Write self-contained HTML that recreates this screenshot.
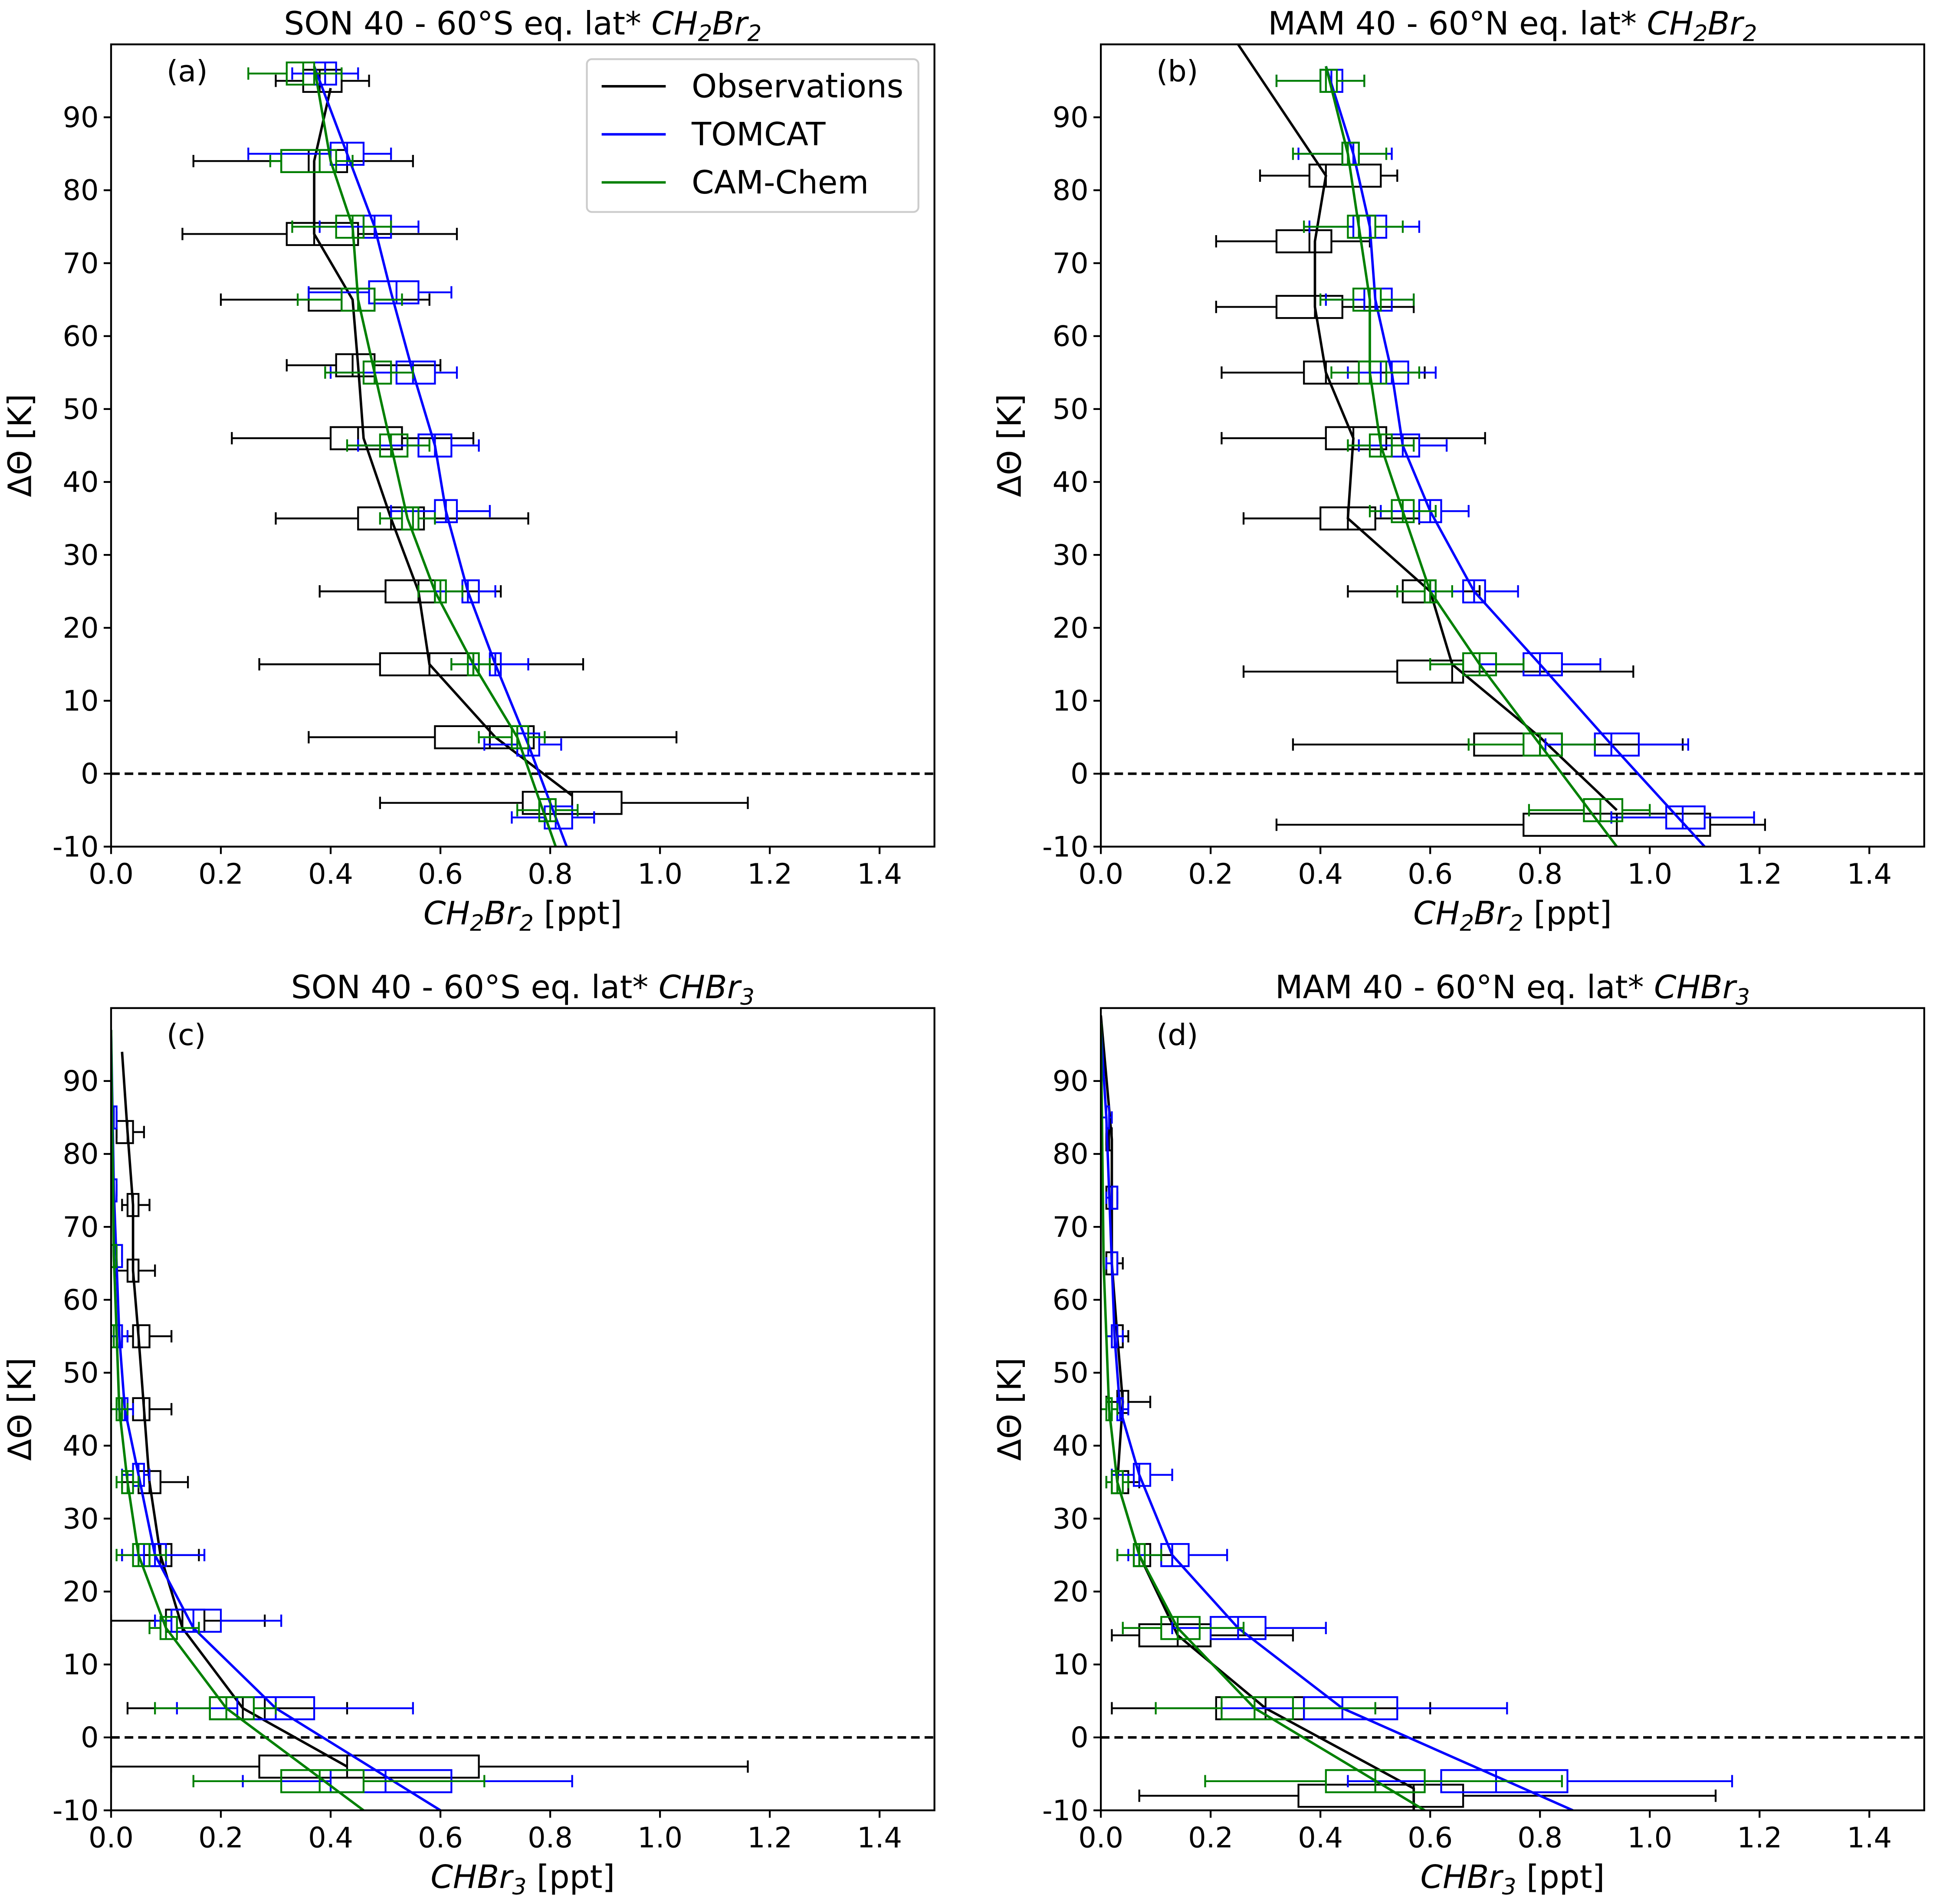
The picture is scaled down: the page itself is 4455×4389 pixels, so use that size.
<!DOCTYPE html>
<html><head><meta charset="utf-8"><style>
html,body{margin:0;padding:0;background:#fff}
svg{display:block;font-family:"DejaVu Sans","Liberation Sans",sans-serif}
</style></head><body>
<svg id="fig" width="4455" height="4389" viewBox="0 0 1568 1545" xmlns="http://www.w3.org/2000/svg"></svg>
<script>
// ---- data: rows are [theta, whiskerLo, q1, median, q3, whiskerHi]
const obsA=[[95,0.30,0.35,0.38,0.42,0.47],[84,0.15,0.31,0.36,0.43,0.55],[74,0.13,0.32,0.37,0.45,0.63],[65,0.20,0.36,0.42,0.48,0.58],[56,0.32,0.41,0.44,0.48,0.60],[46,0.22,0.40,0.45,0.53,0.66],[35,0.30,0.45,0.51,0.57,0.76],[25,0.38,0.50,0.56,0.59,0.71],[15,0.27,0.49,0.58,0.66,0.86],[5,0.36,0.59,0.69,0.77,1.03],[-4,0.49,0.75,0.84,0.93,1.16]];
const tomA=[[96,0.33,0.37,0.39,0.41,0.45],[85,0.25,0.40,0.43,0.46,0.51],[75,0.38,0.46,0.48,0.51,0.56],[66,0.36,0.47,0.52,0.56,0.62],[55,0.40,0.52,0.55,0.59,0.63],[45,0.45,0.56,0.59,0.62,0.67],[36,0.51,0.59,0.61,0.63,0.69],[25,0.59,0.64,0.65,0.67,0.70],[15,0.62,0.69,0.70,0.71,0.76],[4,0.68,0.74,0.76,0.78,0.82],[-6,0.73,0.79,0.81,0.84,0.88]];
const camA=[[96,0.25,0.32,0.35,0.37,0.42],[84,0.29,0.31,0.38,0.41,0.44],[75,0.33,0.41,0.44,0.46,0.51],[65,0.34,0.42,0.45,0.48,0.53],[55,0.39,0.46,0.48,0.51,0.55],[45,0.43,0.49,0.51,0.54,0.58],[35,0.49,0.53,0.55,0.56,0.59],[25,0.56,0.59,0.60,0.61,0.64],[15,0.62,0.65,0.66,0.67,0.69],[5,0.67,0.73,0.74,0.76,0.79],[-5,0.74,0.78,0.80,0.81,0.85]];
const obsLineA=[[94,0.40],[84,0.37],[74,0.37],[65,0.44],[56,0.45],[46,0.46],[35,0.51],[25,0.56],[15,0.58],[5,0.70],[-3,0.84]];
const tomLineA=[[97,0.37],[85,0.43],[75,0.48],[66,0.51],[55,0.55],[45,0.59],[36,0.61],[25,0.65],[15,0.70],[4,0.76],[-10,0.83]];
const camLineA=[[97,0.37],[84,0.40],[75,0.44],[65,0.45],[55,0.48],[45,0.51],[35,0.54],[25,0.59],[15,0.66],[5,0.74],[-10,0.81]];

const obsB=[[82,0.29,0.38,0.41,0.51,0.54],[73,0.21,0.32,0.38,0.42,0.49],[64,0.21,0.32,0.39,0.44,0.57],[55,0.22,0.37,0.41,0.49,0.59],[46,0.22,0.41,0.46,0.52,0.70],[35,0.26,0.40,0.45,0.50,0.58],[25,0.45,0.55,0.60,0.61,0.69],[14,0.26,0.54,0.64,0.66,0.97],[4,0.35,0.68,0.80,0.84,1.06],[-7,0.32,0.77,0.94,1.11,1.21]];
const tomB=[[95,0.32,0.40,0.42,0.44,0.48],[85,0.36,0.44,0.46,0.47,0.53],[75,0.38,0.46,0.49,0.52,0.58],[65,0.41,0.48,0.50,0.53,0.57],[55,0.45,0.51,0.53,0.56,0.61],[45,0.47,0.53,0.55,0.58,0.63],[36,0.51,0.58,0.60,0.62,0.67],[25,0.60,0.66,0.68,0.70,0.76],[15,0.69,0.77,0.80,0.84,0.91],[4,0.81,0.90,0.93,0.98,1.07],[-6,0.93,1.03,1.06,1.10,1.19]];
const camB=[[95,0.32,0.40,0.41,0.43,0.48],[85,0.35,0.44,0.45,0.47,0.52],[75,0.37,0.45,0.47,0.50,0.55],[65,0.40,0.46,0.49,0.51,0.57],[55,0.42,0.47,0.49,0.52,0.58],[45,0.45,0.49,0.51,0.53,0.57],[36,0.49,0.53,0.55,0.57,0.61],[25,0.54,0.59,0.60,0.61,0.64],[15,0.60,0.66,0.69,0.72,0.77],[4,0.67,0.77,0.80,0.84,0.90],[-5,0.78,0.88,0.91,0.95,1.00]];
const obsLineB=[[100,0.25],[82,0.41],[73,0.39],[64,0.39],[55,0.41],[46,0.46],[35,0.45],[25,0.60],[15,0.64],[5,0.80],[-5,0.94]];
const tomLineB=[[97,0.41],[85,0.46],[75,0.49],[65,0.50],[55,0.53],[45,0.55],[36,0.60],[25,0.68],[15,0.80],[4,0.93],[-10,1.10]];
const camLineB=[[97,0.41],[85,0.45],[75,0.47],[65,0.49],[55,0.49],[45,0.51],[36,0.55],[25,0.60],[15,0.69],[4,0.80],[-10,0.94]];

const obsC=[[83,0.01,0.01,0.03,0.04,0.06],[73,0.02,0.03,0.04,0.05,0.07],[64,0.01,0.03,0.04,0.05,0.08],[55,0.02,0.04,0.05,0.07,0.11],[45,0.02,0.04,0.06,0.07,0.11],[35,0.02,0.05,0.07,0.09,0.14],[25,0.02,0.07,0.09,0.11,0.16],[16,0.00,0.10,0.13,0.17,0.28],[4,0.03,0.18,0.24,0.28,0.43],[-4,0.00,0.27,0.43,0.67,1.16]];
const tomC=[[85,0.00,0.00,0.005,0.01,0.01],[75,0.00,0.00,0.005,0.01,0.01],[66,0.00,0.00,0.01,0.02,0.02],[55,0.00,0.01,0.015,0.02,0.03],[45,0.01,0.02,0.025,0.03,0.04],[36,0.02,0.04,0.05,0.06,0.07],[25,0.02,0.06,0.08,0.10,0.17],[16,0.08,0.11,0.15,0.20,0.31],[4,0.12,0.23,0.30,0.37,0.55],[-6,0.24,0.40,0.50,0.62,0.84]];
const camC=[[66,0.00,0.00,0.005,0.01,0.01],[55,0.00,0.00,0.005,0.01,0.01],[45,0.00,0.01,0.015,0.02,0.03],[35,0.01,0.02,0.03,0.04,0.05],[25,0.01,0.04,0.05,0.07,0.10],[15,0.07,0.09,0.10,0.12,0.16],[4,0.08,0.18,0.21,0.26,0.30],[-6,0.15,0.31,0.38,0.46,0.68]];
const obsLineC=[[94,0.02],[83,0.03],[73,0.04],[64,0.04],[55,0.05],[45,0.06],[35,0.07],[25,0.09],[15,0.13],[4,0.24],[-4,0.43]];
const tomLineC=[[97,0.00],[75,0.005],[55,0.015],[45,0.025],[36,0.05],[25,0.08],[15,0.15],[4,0.30],[-10,0.60]];
const camLineC=[[97,0.00],[66,0.005],[45,0.015],[35,0.03],[25,0.05],[15,0.10],[4,0.21],[-10,0.46]];

const obsD=[[82,0.01,0.01,0.015,0.02,0.02],[74,0.01,0.01,0.02,0.03,0.03],[65,0.01,0.01,0.02,0.03,0.04],[55,0.01,0.02,0.03,0.04,0.05],[46,0.01,0.03,0.04,0.05,0.09],[35,0.01,0.02,0.03,0.05,0.07],[25,0.03,0.06,0.07,0.09,0.13],[14,0.02,0.07,0.14,0.20,0.35],[4,0.02,0.21,0.30,0.37,0.60],[-8,0.07,0.36,0.57,0.66,1.12]];
const tomD=[[85,0.00,0.01,0.01,0.015,0.02],[74,0.01,0.02,0.02,0.03,0.03],[65,0.01,0.02,0.02,0.03,0.03],[55,0.01,0.02,0.025,0.03,0.04],[45,0.02,0.03,0.035,0.04,0.05],[36,0.02,0.06,0.07,0.09,0.13],[25,0.05,0.11,0.13,0.16,0.23],[15,0.13,0.20,0.25,0.30,0.41],[4,0.22,0.37,0.44,0.54,0.74],[-6,0.45,0.62,0.72,0.85,1.15]];
const camD=[[45,0.00,0.01,0.015,0.02,0.03],[35,0.01,0.02,0.03,0.04,0.05],[25,0.03,0.06,0.07,0.08,0.11],[15,0.04,0.11,0.14,0.18,0.26],[4,0.10,0.22,0.28,0.35,0.50],[-6,0.19,0.41,0.50,0.59,0.84]];
const obsLineD=[[99,0.00],[82,0.02],[74,0.02],[65,0.02],[55,0.03],[46,0.04],[35,0.03],[25,0.07],[14,0.14],[4,0.30],[-7,0.57],[-10,0.57]];
const tomLineD=[[97,0.00],[85,0.01],[65,0.02],[55,0.025],[45,0.035],[36,0.07],[25,0.13],[15,0.25],[4,0.44],[-10,0.86]];
const camLineD=[[98,0.00],[65,0.005],[45,0.015],[35,0.03],[25,0.07],[15,0.14],[4,0.28],[-10,0.59]];

const xTicks=[0,0.2,0.4,0.6,0.8,1.0,1.2,1.4];
const yTicks=[-10,0,10,20,30,40,50,60,70,80,90];
const xTickLabels=["0.0","0.2","0.4","0.6","0.8","1.0","1.2","1.4"];

const NS="http://www.w3.org/2000/svg";
const svg=document.getElementById('fig');
function mk(tag,attrs,parent){const e=document.createElementNS(NS,tag);for(const k in attrs)e.setAttribute(k,attrs[k]);(parent||svg).appendChild(e);return e;}

const panels=[
 {id:'a',x0:90,y0:36,title:['SON 40 - 60°S eq. lat* ','CH','2','Br','2'],xl:['CH','2','Br','2'],obs:obsA,tom:tomA,cam:camA,ol:obsLineA,tl:tomLineA,cl:camLineA,legend:true},
 {id:'b',x0:893,y0:36,title:['MAM 40 - 60°N eq. lat* ','CH','2','Br','2'],xl:['CH','2','Br','2'],obs:obsB,tom:tomB,cam:camB,ol:obsLineB,tl:tomLineB,cl:camLineB},
 {id:'c',x0:90,y0:818,title:['SON 40 - 60°S eq. lat* ','CHBr','3'],xl:['CHBr','3'],obs:obsC,tom:tomC,cam:camC,ol:obsLineC,tl:tomLineC,cl:camLineC},
 {id:'d',x0:893,y0:818,title:['MAM 40 - 60°N eq. lat* ','CHBr','3'],xl:['CHBr','3'],obs:obsD,tom:tomD,cam:camD,ol:obsLineD,tl:tomLineD,cl:camLineD}
];
const W=668,H=651;

function chemText(parent,x,y,parts,plain,suffix,size,anchor,name){
  const t=mk('text',{x:x,y:y,'font-size':size,'text-anchor':anchor||'middle',fill:'#000'},parent);
  
  
  if(plain){const s=mk('tspan',{},t);s.textContent=plain;}
  for(let i=0;i<parts.length;i++){
    const isSub=/^\d$/.test(parts[i]);
    const s=mk('tspan',isSub?{'font-style':'italic','font-size':size*0.7,dy:size*0.2}:{'font-style':'italic',dy:(i>0&&/^\d$/.test(parts[i-1]))?-size*0.2:0},t);
    s.textContent=parts[i];
  }
  if(suffix){const s=mk('tspan',{dy:/^\d$/.test(parts[parts.length-1])?-size*0.2:0},t);s.textContent=suffix;}
  return t;
}

panels.forEach(p=>{
  const g=mk('g',{});
  
  
  const xs=v=>p.x0+v/1.5*W;
  const ys=v=>p.y0+(100-v)/110*H;
  const cp=mk('clipPath',{id:'clip'+p.id},g);
  mk('rect',{x:p.x0,y:p.y0,width:W,height:H},cp);
  const plot=mk('g',{'clip-path':'url(#clip'+p.id+')'},g);
  const zl=mk('line',{x1:p.x0,x2:p.x0+W,y1:ys(0),y2:ys(0),stroke:'#000','stroke-width':2,'stroke-dasharray':'7,4'},plot);
  
  
  const series=[[p.obs,p.ol,'#000','observations'],[p.tom,p.tl,'#0000ff','tomcat'],[p.cam,p.cl,'#008000','cam-chem']];
  series.forEach(([rows,line,col,nm])=>{
    const sg=mk('g',{stroke:col,fill:'none','stroke-width':1.5},plot);
    
    
    rows.forEach(r=>{
      const y=ys(r[0]),h=9;
      mk('line',{x1:xs(r[1]),x2:xs(r[2]),y1:y,y2:y},sg);
      mk('line',{x1:xs(r[4]),x2:xs(r[5]),y1:y,y2:y},sg);
      mk('line',{x1:xs(r[1]),x2:xs(r[1]),y1:y-5,y2:y+5},sg);
      mk('line',{x1:xs(r[5]),x2:xs(r[5]),y1:y-5,y2:y+5},sg);
      const b=mk('rect',{x:xs(r[2]),y:y-h,width:Math.max(xs(r[4])-xs(r[2]),1),height:2*h},sg);
      
      
      mk('line',{x1:xs(r[3]),x2:xs(r[3]),y1:y-h,y2:y+h},sg);
    });
    const pl=mk('polyline',{points:line.map(q=>xs(q[1])+','+ys(q[0])).join(' '),stroke:col,fill:'none','stroke-width':2},plot);
    
    
  });
  const fr=mk('rect',{x:p.x0,y:p.y0,width:W,height:H,fill:'none',stroke:'#000','stroke-width':1.5},g);
  
  
  xTicks.forEach((v,i)=>{
    mk('line',{x1:xs(v),x2:xs(v),y1:p.y0+H,y2:p.y0+H+6,stroke:'#000','stroke-width':1.5},g);
    const t=mk('text',{x:xs(v),y:p.y0+H+30,'font-size':23,'text-anchor':'middle'},g);
    
    
    t.textContent=xTickLabels[i];
  });
  yTicks.forEach(v=>{
    mk('line',{x1:p.x0-6,x2:p.x0,y1:ys(v),y2:ys(v),stroke:'#000','stroke-width':1.5},g);
    const t=mk('text',{x:p.x0-10,y:ys(v)+8,'font-size':23,'text-anchor':'end'},g);
    
    
    t.textContent=String(v);
  });
  const yl=mk('text',{x:0,y:0,'font-size':26,'text-anchor':'middle',transform:'translate('+(p.x0-65)+','+(p.y0+H/2)+') rotate(-90)'},g);
  
  
  yl.textContent='ΔΘ [K]';
  chemText(g,p.x0+W/2,p.y0+H+63,p.xl,'',' [ppt]',26,'middle','x-axis-title');
  chemText(g,p.x0+W/2,p.y0-8,p.title.slice(1),p.title[0],'',26,'middle','panel-title');
  const pl=mk('text',{x:p.x0+45,y:p.y0+30,'font-size':24},g);
  
  
  pl.textContent='('+p.id+')';
  if(p.legend){
    const lg=mk('g',{},g);
    
    
    mk('rect',{x:476,y:48,width:269,height:124,rx:4,fill:'#fff',stroke:'#ccc','stroke-width':1.5},lg);
    [['Observations','#000'],['TOMCAT','#0000ff'],['CAM-Chem','#008000']].forEach((e,i)=>{
      const eg=mk('g',{},lg);
      
      
      const y=70+i*39;
      mk('line',{x1:488,x2:540,y1:y,y2:y,stroke:e[1],'stroke-width':2},eg);
      const t=mk('text',{x:561,y:y+9,'font-size':26},eg);
      t.textContent=e[0];
    });
  }
});
</script>
</body></html>
